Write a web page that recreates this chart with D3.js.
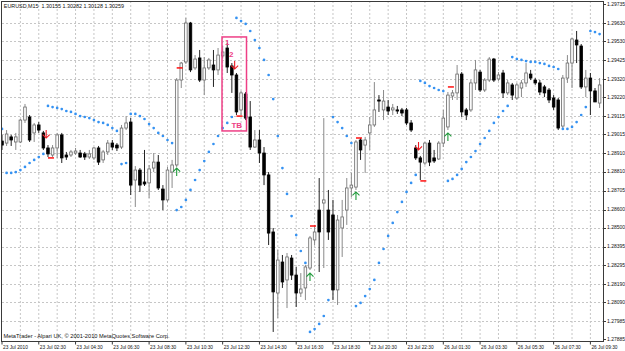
<!DOCTYPE html>
<meta charset="utf-8">
<script src="https://cdn.jsdelivr.net/npm/d3@7"></script>
<style>
body { margin: 0; background: #fff; }
text { font-family: "Liberation Sans", Arial, sans-serif; }
</style>
<body>
<script>

// EURUSD M15 bars (bar 0 = 23 Jul 00:30)
var opens = [
  1.28978, 1.28967, 1.29001, 1.28973, 1.28973, 1.29094, 1.29111, 1.29023, 1.29067, 1.29023,
  1.28940, 1.28901, 1.28940, 1.29012, 1.28901, 1.28901, 1.28912, 1.28912, 1.28907, 1.28890,
  1.28885, 1.28940, 1.28874, 1.28918, 1.28967, 1.28956, 1.28945, 1.29050, 1.29083, 1.28763,
  1.28818, 1.28752, 1.28747, 1.28829, 1.28862, 1.28713, 1.28653, 1.28807, 1.28846, 1.29315,
  1.29415, 1.29630, 1.29382, 1.29437, 1.29315, 1.29382, 1.29398, 1.29371, 1.29448, 1.29492,
  1.29393, 1.29343, 1.29150, 1.29238, 1.29111, 1.28945, 1.28984, 1.28912, 1.28791, 1.28476,
  1.28139, 1.28310, 1.28211, 1.28332, 1.28238, 1.28139, 1.28167, 1.28277, 1.28432, 1.28597,
  1.28636, 1.28597, 1.28570, 1.28156, 1.28498, 1.28597, 1.28719, 1.28724, 1.28984, 1.28956,
  1.29023, 1.29067, 1.29205, 1.29150, 1.29166, 1.29150, 1.29150, 1.29150, 1.29150, 1.29078,
  1.28940, 1.28885, 1.28857, 1.28967, 1.28885, 1.28879, 1.28967, 1.29056, 1.29227, 1.29244,
  1.29348, 1.29150, 1.29150, 1.29299, 1.29359, 1.29260, 1.29315, 1.29431, 1.29321, 1.29354,
  1.29244, 1.29288, 1.29216, 1.29271, 1.29299, 1.29348, 1.29315, 1.29299, 1.29277, 1.29260,
  1.29216, 1.29205, 1.29061, 1.29326, 1.29409, 1.29536, 1.29503, 1.29277, 1.29326, 1.29255,
  1.29188
];
var highs = [
  1.29012, 1.29039, 1.29012, 1.29023, 1.29100, 1.29183, 1.29122, 1.29078, 1.29083, 1.29034,
  1.28956, 1.28956, 1.29023, 1.29023, 1.28918, 1.28929, 1.28940, 1.28929, 1.28918, 1.28929,
  1.28945, 1.28951, 1.28929, 1.28984, 1.28984, 1.28967, 1.29067, 1.29116, 1.29105, 1.28840,
  1.28829, 1.28929, 1.28846, 1.28912, 1.28901, 1.28735, 1.28835, 1.28874, 1.29326, 1.29415,
  1.29658, 1.29636, 1.29453, 1.29481, 1.29442, 1.29437, 1.29481, 1.29492, 1.29503, 1.29520,
  1.29409, 1.29354, 1.29255, 1.29249, 1.29199, 1.29039, 1.29039, 1.28945, 1.28807, 1.28498,
  1.28377, 1.28349, 1.28360, 1.28349, 1.28283, 1.28249, 1.28294, 1.28454, 1.28515, 1.28774,
  1.29105, 1.28708, 1.28653, 1.28570, 1.28653, 1.28774, 1.28802, 1.28984, 1.28995, 1.29001,
  1.29111, 1.29304, 1.29232, 1.29260, 1.29205, 1.29183, 1.29172, 1.29161, 1.29161, 1.29094,
  1.28956, 1.28896, 1.28973, 1.28984, 1.28929, 1.28978, 1.29150, 1.29249, 1.29260, 1.29398,
  1.29359, 1.29161, 1.29315, 1.29426, 1.29371, 1.29326, 1.29442, 1.29437, 1.29359, 1.29371,
  1.29315, 1.29299, 1.29299, 1.29315, 1.29409, 1.29371, 1.29326, 1.29315, 1.29288, 1.29271,
  1.29232, 1.29216, 1.29343, 1.29453, 1.29547, 1.29586, 1.29514, 1.29371, 1.29354, 1.29271,
  1.29326
];
var lows = [
  1.28929, 1.28951, 1.28951, 1.28929, 1.28967, 1.29078, 1.28973, 1.28973, 1.29023, 1.28929,
  1.28890, 1.28890, 1.28885, 1.28857, 1.28874, 1.28890, 1.28901, 1.28885, 1.28874, 1.28879,
  1.28874, 1.28846, 1.28857, 1.28901, 1.28929, 1.28923, 1.28934, 1.29039, 1.28680, 1.28614,
  1.28697, 1.28730, 1.28664, 1.28807, 1.28708, 1.28597, 1.28642, 1.28719, 1.28835, 1.29271,
  1.29404, 1.29359, 1.29371, 1.29304, 1.29232, 1.29371, 1.29277, 1.29343, 1.29437, 1.29354,
  1.29244, 1.29122, 1.29122, 1.29094, 1.28929, 1.28940, 1.28857, 1.28735, 1.28404, 1.27924,
  1.28001, 1.28167, 1.28056, 1.28211, 1.28062, 1.28117, 1.28100, 1.28266, 1.28404, 1.28255,
  1.28277, 1.28432, 1.28100, 1.28073, 1.28338, 1.28515, 1.28669, 1.28708, 1.28874, 1.28802,
  1.28929, 1.29056, 1.29139, 1.29094, 1.29122, 1.29122, 1.29128, 1.29116, 1.29067, 1.29028,
  1.28874, 1.28763, 1.28846, 1.28840, 1.28857, 1.28874, 1.28945, 1.29039, 1.29205, 1.29205,
  1.29111, 1.29094, 1.29139, 1.29260, 1.29249, 1.29249, 1.29304, 1.29304, 1.29310, 1.29216,
  1.29232, 1.29205, 1.29205, 1.29221, 1.29277, 1.29315, 1.29288, 1.29232, 1.29221, 1.29188,
  1.29150, 1.29039, 1.29050, 1.29299, 1.29271, 1.29409, 1.29266, 1.29221, 1.29122, 1.29199,
  1.29161
];
var closes = [
  1.28956, 1.29017, 1.28984, 1.29001, 1.29094, 1.29166, 1.28984, 1.29067, 1.29039, 1.28940,
  1.28907, 1.28940, 1.29012, 1.28885, 1.28890, 1.28918, 1.28923, 1.28890, 1.28890, 1.28907,
  1.28940, 1.28862, 1.28918, 1.28967, 1.28945, 1.28940, 1.29050, 1.29078, 1.28735, 1.28818,
  1.28735, 1.28741, 1.28824, 1.28862, 1.28719, 1.28653, 1.28818, 1.28846, 1.29315, 1.29409,
  1.29630, 1.29371, 1.29431, 1.29315, 1.29382, 1.29426, 1.29371, 1.29453, 1.29470, 1.29387,
  1.29343, 1.29139, 1.29244, 1.29105, 1.28945, 1.28984, 1.28912, 1.28791, 1.28470, 1.28145,
  1.28321, 1.28200, 1.28338, 1.28238, 1.28139, 1.28161, 1.28283, 1.28443, 1.28476, 1.28476,
  1.28653, 1.28476, 1.28156, 1.28542, 1.28559, 1.28719, 1.28735, 1.28973, 1.28929, 1.28984,
  1.29067, 1.29150, 1.29199, 1.29199, 1.29144, 1.29161, 1.29144, 1.29133, 1.29078, 1.29039,
  1.28885, 1.28862, 1.28967, 1.28862, 1.28868, 1.28967, 1.29105, 1.29232, 1.29244, 1.29348,
  1.29139, 1.29122, 1.29299, 1.29371, 1.29260, 1.29315, 1.29431, 1.29315, 1.29343, 1.29244,
  1.29299, 1.29232, 1.29288, 1.29299, 1.29354, 1.29326, 1.29299, 1.29249, 1.29244, 1.29205,
  1.29166, 1.29050, 1.29326, 1.29409, 1.29542, 1.29509, 1.29277, 1.29326, 1.29255, 1.29194,
  1.29288
];

// parabolic SAR, one value per bar
var sar = [
  1.29045, 1.28802, 1.28802, 1.28807, 1.28818, 1.28835, 1.28857, 1.28874, 1.28890, 1.28907,
  1.29172, 1.29166, 1.29161, 1.29155, 1.29144, 1.29139, 1.29128, 1.29116, 1.29111, 1.29105,
  1.29094, 1.29083, 1.29078, 1.29067, 1.29050, 1.29034, 1.28851, 1.28857, 1.29128, 1.29128,
  1.29116, 1.29100, 1.29072, 1.29050, 1.29023, 1.29006, 1.28984, 1.28967, 1.28597, 1.28614,
  1.28653, 1.28708, 1.28763, 1.28818, 1.28868, 1.28918, 1.28962, 1.29006, 1.29050, 1.29078,
  1.29111, 1.29658, 1.29641, 1.29625, 1.29586, 1.29536, 1.29492, 1.29426, 1.29343, 1.29210,
  1.29006, 1.28829, 1.28686, 1.28564, 1.28459, 1.28371, 1.28305, 1.27924, 1.27940, 1.27968,
  1.28012, 1.28100, 1.29111, 1.29083, 1.29050, 1.29006, 1.28967, 1.28067, 1.28084, 1.28122,
  1.28161, 1.28211, 1.28305, 1.28382, 1.28454, 1.28526, 1.28586, 1.28642, 1.28697, 1.28747,
  1.28791, 1.29310, 1.29299, 1.29282, 1.29271, 1.29260, 1.29254, 1.28758, 1.28769, 1.28791,
  1.28824, 1.28862, 1.28890, 1.28923, 1.28962, 1.28995, 1.29034, 1.29078, 1.29111, 1.29144,
  1.29172, 1.29442, 1.29431, 1.29426, 1.29420, 1.29415, 1.29415, 1.29409, 1.29404, 1.29393,
  1.29387, 1.29376, 1.29045, 1.29045, 1.29056, 1.29083, 1.29122, 1.29166, 1.29586, 1.29580,
  1.29569
];

// signals: [bar, price]
var sellArrows = [[10, 1.29017], [51, 1.29398], [91, 1.28951]];
var buyArrows = [[38, 1.28807], [67, 1.28227], [77, 1.28675], [97, 1.29001]];
var stopMarks = [[10, 1.28885], [38, 1.29382], [51, 1.29116], [67, 1.28509], [77, 1.28995], [91, 1.28758], [97, 1.29277]];

// the "TB" box
var boxBars = [47.86, 53.19];
var boxPrices = [1.29553, 1.29034];

var priceLabels = [1.29735, 1.29630, 1.29530, 1.29425, 1.29320, 1.29220, 1.29115, 1.29015, 1.28910,
  1.28810, 1.28705, 1.28600, 1.28500, 1.28395, 1.28295, 1.28190, 1.28090, 1.27985, 1.27885];
var timeLabels = ["23 Jul 2010", "23 Jul 02:30", "23 Jul 04:30", "23 Jul 06:30", "23 Jul 08:30",
  "23 Jul 10:30", "23 Jul 12:30", "23 Jul 14:30", "23 Jul 16:30", "23 Jul 18:30", "23 Jul 20:30",
  "23 Jul 22:30", "26 Jul 01:30", "26 Jul 03:30", "26 Jul 05:30", "26 Jul 07:30", "26 Jul 09:30"];

var width = 625, height = 351,
    plot = {left: 2, right: 603, top: 1, bottom: 341},
    pink = "#ee3f86";

var x = d3.scaleLinear().domain([0, 130]).range([2, 599.6]);
var y = d3.scaleLinear().domain([1.27885, 1.29735]).range([339, 4]);

var svg = d3.select("body").append("svg")
    .attr("width", width)
    .attr("height", height);

svg.append("rect").attr("width", width).attr("height", height).attr("fill", "#fff");

svg.append("clipPath").attr("id", "plotclip")
  .append("rect")
    .attr("x", plot.left).attr("y", plot.top)
    .attr("width", plot.right - plot.left).attr("height", plot.bottom - plot.top);

var area = svg.append("g").attr("clip-path", "url(#plotclip)");

// dashed grid
area.selectAll(".hgrid").data(priceLabels.slice(1, -1)).enter().append("line")
    .attr("x1", plot.left).attr("x2", plot.right)
    .attr("y1", function(d) { return Math.round(y(d)) + 0.5; })
    .attr("y2", function(d) { return Math.round(y(d)) + 0.5; })
    .attr("stroke", "#c6c6c6").attr("stroke-dasharray", "2,2");

area.selectAll(".vgrid").data(d3.range(4, 131, 4)).enter().append("line")
    .attr("x1", function(d) { return x(d); })
    .attr("x2", function(d) { return x(d); })
    .attr("y1", plot.top).attr("y2", plot.bottom)
    .attr("stroke", "#c6c6c6").attr("stroke-dasharray", "2,2");

// candles
var bars = d3.range(opens.length);
function isUp(i) { return closes[i] >= opens[i]; }

var candle = area.selectAll(".candle").data(bars).enter().append("g").attr("class", "candle");

candle.append("line")
    .attr("x1", function(i) { return x(i); })
    .attr("x2", function(i) { return x(i); })
    .attr("y1", function(i) { return y(highs[i]); })
    .attr("y2", function(i) { return y(lows[i]); })
    .attr("stroke", function(i) { return isUp(i) ? "#8a8a8a" : "#222"; })
    .attr("stroke-width", 1);

candle.append("rect")
    .attr("x", function(i) { return x(i) - 1.3; })
    .attr("width", 2.6)
    .attr("y", function(i) { return y(Math.max(opens[i], closes[i])); })
    .attr("height", function(i) { return Math.max(0.8, Math.abs(y(opens[i]) - y(closes[i]))); })
    .attr("fill", function(i) { return isUp(i) ? "#fafafa" : "#000"; })
    .attr("stroke", function(i) { return isUp(i) ? "#6a6a6a" : "#000"; })
    .attr("stroke-width", 0.8);

// parabolic SAR dots
area.selectAll(".sar").data(bars).enter().append("circle")
    .attr("cx", function(i) { return x(i); })
    .attr("cy", function(i) { return y(sar[i]); })
    .attr("r", 1.35)
    .attr("fill", "#3592f2");

// stop marks (short red dashes)
area.selectAll(".stop").data(stopMarks).enter().append("line")
    .attr("x1", function(d) { return x(d[0]); })
    .attr("x2", function(d) { return x(d[0]) + 6; })
    .attr("y1", function(d) { return y(d[1]); })
    .attr("y2", function(d) { return y(d[1]); })
    .attr("stroke", "#ff1010").attr("stroke-width", 1.5);

// arrows
function arrowPath(cx, cy, dir) {
  // dir = 1 points down, -1 points up
  var tip = cy + 4 * dir, tail = cy - 4 * dir;
  return "M" + cx + "," + tail + "L" + cx + "," + tip +
         "M" + (cx - 3.5) + "," + (tip - 3.5 * dir) + "L" + cx + "," + tip + "L" + (cx + 3.5) + "," + (tip - 3.5 * dir);
}

area.selectAll(".sell").data(sellArrows).enter().append("path")
    .attr("d", function(d) { return arrowPath(x(d[0]) - 1.8, y(d[1]), 1); })
    .attr("fill", "none").attr("stroke", "#ee1c24").attr("stroke-width", 1.1);

area.selectAll(".buy").data(buyArrows).enter().append("path")
    .attr("d", function(d) { return arrowPath(x(d[0]), y(d[1]), -1); })
    .attr("fill", "none").attr("stroke", "#1f9a3a").attr("stroke-width", 1.1);

// TB box
var bx0 = x(boxBars[0]), bx1 = x(boxBars[1]), by0 = y(boxPrices[0]), by1 = y(boxPrices[1]);
area.append("rect")
    .attr("x", bx0).attr("y", by0)
    .attr("width", bx1 - bx0).attr("height", by1 - by0)
    .attr("fill", "none").attr("stroke", pink).attr("stroke-width", 1.5);
area.append("text").attr("x", bx0 + 3).attr("y", by0 + 8.4).text("1")
    .attr("font-size", "8px").attr("font-weight", "bold").attr("fill", pink);
area.append("text").attr("x", bx0 + 7).attr("y", by0 + 20.2).text("2")
    .attr("font-size", "8px").attr("font-weight", "bold").attr("fill", pink);
area.append("text").attr("x", bx0 + 9.4).attr("y", by1 - 3.4).text("TB")
    .attr("font-size", "8px").attr("font-weight", "bold").attr("fill", pink);

// frame and axes
svg.append("rect")
    .attr("x", plot.left - 0.5).attr("y", plot.top + 0.5)
    .attr("width", plot.right - plot.left + 1).attr("height", plot.bottom - plot.top)
    .attr("fill", "none").attr("stroke", "#3a3a3a").attr("stroke-width", 1);

// price axis
svg.selectAll(".ptick").data(priceLabels).enter().append("line")
    .attr("x1", plot.right + 0.5).attr("x2", plot.right + 3)
    .attr("y1", function(d) { return Math.round(y(d)) + 0.5; })
    .attr("y2", function(d) { return Math.round(y(d)) + 0.5; })
    .attr("stroke", "#3a3a3a");

svg.selectAll(".plabel").data(priceLabels).enter().append("text")
    .attr("x", plot.right + 4)
    .attr("y", function(d) { return y(d) + 1.8; })
    .attr("font-size", "5px")
    .attr("fill", "#111")
    .text(function(d) { return d.toFixed(5); });

// time axis
svg.selectAll(".ttick").data(timeLabels).enter().append("line")
    .attr("x1", function(d, k) { return x(8 * k); })
    .attr("x2", function(d, k) { return x(8 * k); })
    .attr("y1", plot.bottom).attr("y2", plot.bottom + 3.5)
    .attr("stroke", "#3a3a3a");

svg.selectAll(".tlabel").data(timeLabels).enter().append("text")
    .attr("x", function(d, k) { return x(8 * k) + 1; })
    .attr("y", 348.8)
    .attr("font-size", "4.8px")
    .attr("fill", "#111")
    .text(function(d) { return d; });

// texts
svg.append("text").attr("x", 3.8).attr("y", 7.8)
    .attr("font-size", "5.4px").attr("fill", "#111")
    .attr("xml:space", "preserve")
    .text("EURUSD,M15  1.30155 1.30282 1.30128 1.30259");

svg.append("text").attr("x", 3.4).attr("y", 338.4)
    .attr("font-size", "5.7px").attr("fill", "#111")
    .text("MetaTrader - Alpari UK, \u00a9 2001-2010 MetaQuotes Software Corp.");

</script>
</body>
